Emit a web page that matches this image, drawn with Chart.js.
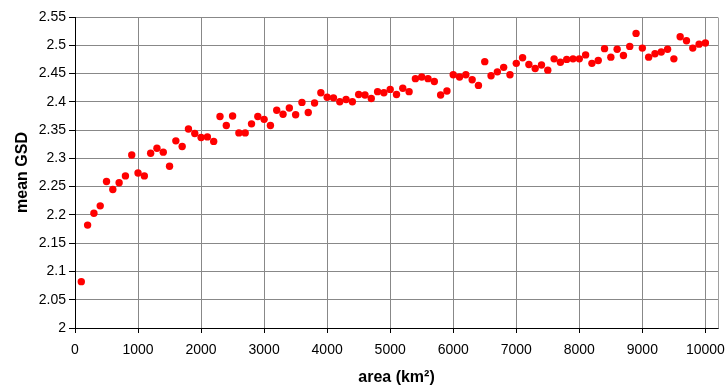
<!DOCTYPE html>
<html>
<head>
<meta charset="utf-8">
<script src="https://cdn.jsdelivr.net/npm/chart.js@4/dist/chart.umd.min.js"></script>
<style>
html,body{margin:0;padding:0;background:#fff;}
#wrap{width:727px;height:389px;position:relative;}
</style>
</head>
<body>
<div id="wrap"><canvas id="c" width="727" height="389"></canvas></div>
<script>
const areas = [100,200,300,400,500,600,700,800,900,1000,
  1100,1200,1300,1400,1500,1600,1700,1800,1900,2000,
  2100,2200,2300,2400,2500,2600,2700,2800,2900,3000,
  3100,3200,3300,3400,3500,3600,3700,3800,3900,4000,
  4100,4200,4300,4400,4500,4600,4700,4800,4900,5000,
  5100,5200,5300,5400,5500,5600,5700,5800,5900,6000,
  6100,6200,6300,6400,6500,6600,6700,6800,6900,7000,
  7100,7200,7300,7400,7500,7600,7700,7800,7900,8000,
  8100,8200,8300,8400,8500,8600,8700,8800,8900,9000,
  9100,9200,9300,9400,9500,9600,9700,9800,9900,10000];
const meanGSD = [2.082,2.182,2.203,2.216,2.259,2.245,2.257,2.269,2.306,2.274,
  2.269,2.309,2.318,2.311,2.286,2.331,2.321,2.352,2.344,2.337,
  2.338,2.330,2.374,2.358,2.375,2.345,2.345,2.361,2.374,2.369,
  2.358,2.385,2.378,2.389,2.377,2.399,2.381,2.398,2.416,2.408,
  2.407,2.400,2.404,2.400,2.413,2.412,2.406,2.418,2.416,2.422,
  2.413,2.424,2.418,2.441,2.444,2.441,2.436,2.412,2.419,2.448,
  2.444,2.448,2.439,2.429,2.471,2.446,2.453,2.461,2.448,2.468,
  2.478,2.466,2.459,2.465,2.456,2.476,2.470,2.475,2.476,2.476,
  2.483,2.468,2.473,2.494,2.479,2.493,2.482,2.498,2.521,2.495,
  2.479,2.485,2.488,2.493,2.476,2.515,2.508,2.495,2.502,2.504];
const xTicks = [0,1000,2000,3000,4000,5000,6000,7000,8000,9000,10000];
const yTicks = [2,2.05,2.1,2.15,2.2,2.25,2.3,2.35,2.4,2.45,2.5,2.55];
const xTitle = 'area (km²)';
const yTitle = 'mean GSD';

const FONT = "'Liberation Sans', Arial, sans-serif";

const borderPlugin = {
  id: 'plotBorder',
  beforeDatasetsDraw(chart) {
    const {ctx, chartArea} = chart;
    ctx.save();
    ctx.strokeStyle = '#a0a0a0';
    ctx.lineWidth = 1;
    const x = Math.round(chartArea.right) + 0.5;
    ctx.beginPath();
    ctx.moveTo(x, Math.round(chartArea.top) + 0.5);
    ctx.lineTo(x, Math.round(chartArea.bottom) + 0.5);
    ctx.stroke();
    ctx.restore();
  }
};

new Chart(document.getElementById('c'), {
  type: 'scatter',
  data: {
    datasets: [{
      data: areas.map((a, i) => ({x: a, y: meanGSD[i]})),
      backgroundColor: '#ff0000',
      borderColor: '#ff0000',
      borderWidth: 0,
      pointRadius: 3.7,
      pointHoverRadius: 3.7
    }]
  },
  options: {
    responsive: false,
    animation: false,
    devicePixelRatio: 1,
    layout: {padding: {left: 0, right: 9, top: 17, bottom: 0}},
    plugins: {legend: {display: false}, tooltip: {enabled: false}},
    scales: {
      x: {
        type: 'linear',
        min: 0,
        max: 10200,
        afterBuildTicks: s => { s.ticks = xTicks.map(v => ({value: v})); },
        afterFit: s => { s.height = 61; s.paddingRight = 0; s.paddingLeft = 0; },
        ticks: {
          color: '#000',
          font: {family: FONT, size: 14},
          padding: 9,
          maxRotation: 0,
          autoSkip: false,
          callback: v => String(v)
        },
        grid: {color: '#888888', lineWidth: 1, tickLength: 5, tickColor: '#000'},
        border: {display: true, color: '#000', width: 1},
        title: {display: true, text: xTitle, color: '#000', font: {family: FONT, size: 16, weight: 'bold'}, padding: {top: 0, bottom: 1.5}}
      },
      y: {
        type: 'linear',
        min: 2,
        max: 2.55,
        afterBuildTicks: s => { s.ticks = yTicks.map(v => ({value: v})); },
        afterFit: s => { s.width = 75; s.paddingTop = 0; s.paddingBottom = 0; },
        ticks: {
          color: '#000',
          font: {family: FONT, size: 14},
          padding: 3,
          autoSkip: false,
          callback: v => String(Math.round(v * 100) / 100)
        },
        grid: {color: '#888888', lineWidth: 1, tickLength: 6, tickColor: '#000'},
        border: {display: true, color: '#000', width: 1},
        title: {display: true, text: yTitle, color: '#000', font: {family: FONT, size: 16, weight: 'bold'}, padding: {top: 12.5, bottom: 0}}
      }
    }
  },
  plugins: [borderPlugin]
});
</script>
</body>
</html>
